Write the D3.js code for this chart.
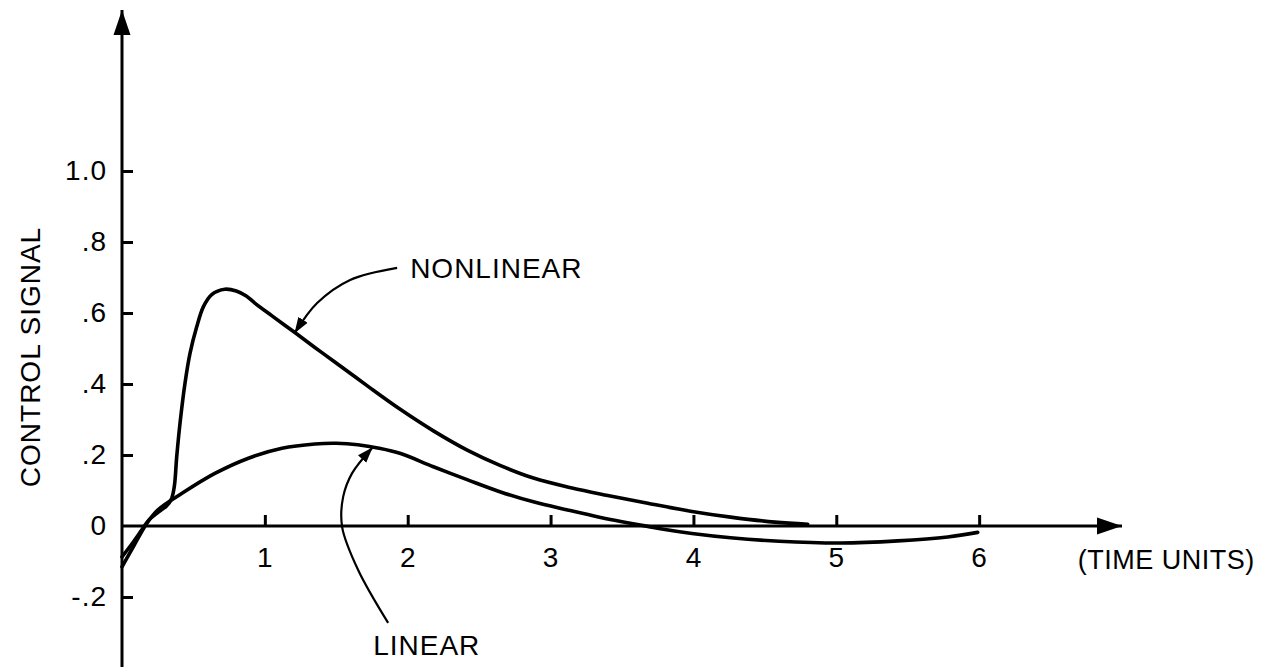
<!DOCTYPE html>
<html>
<head>
<meta charset="utf-8">
<script src="https://cdn.jsdelivr.net/npm/d3@7"></script>
<style>
  html, body { margin: 0; padding: 0; background: #fff; }
  svg { display: block; }
  text { font-family: "Liberation Sans", Arial, sans-serif; fill: #000; }
</style>
</head>
<body>
<svg id="chart" width="1276" height="670"></svg>
<script>
// Time axis (time units) and control-signal axis
const xTicks = [1, 2, 3, 4, 5, 6];
const yTicks = [-0.2, 0, 0.2, 0.4, 0.6, 0.8, 1.0];
const yTickLabels = ["-.2", "0", ".2", ".4", ".6", ".8", "1.0"];

// Nonlinear controller response
const nonlinearTime = [0, 0.07, 0.14, 0.19, 0.25, 0.31, 0.345, 0.366, 0.383, 0.406, 0.441, 0.476, 0.523, 0.57, 0.628, 0.72, 0.8, 0.87, 0.93, 1.05, 1.21, 1.35, 1.48, 1.72, 1.95, 2.18, 2.42, 2.65, 2.88, 3.15, 3.4, 3.68, 3.99, 4.26, 4.57, 4.8];
const nonlinearSignal = [-0.087, -0.05, -0.01, 0.018, 0.038, 0.056, 0.075, 0.111, 0.195, 0.289, 0.402, 0.486, 0.561, 0.618, 0.652, 0.667, 0.662, 0.648, 0.628, 0.592, 0.545, 0.503, 0.465, 0.394, 0.328, 0.268, 0.213, 0.17, 0.135, 0.107, 0.086, 0.064, 0.041, 0.025, 0.011, 0.005];

// Linear controller response
const linearTime = [0, 0.08, 0.17, 0.25, 0.42, 0.65, 0.885, 1.12, 1.35, 1.5, 1.65, 1.8, 1.95, 2.18, 2.42, 2.65, 2.88, 3.12, 3.35, 3.5, 3.68, 3.79, 3.99, 4.26, 4.6, 5.03, 5.43, 5.78, 5.99];
const linearSignal = [-0.115, -0.058, 0.005, 0.045, 0.092, 0.148, 0.191, 0.219, 0.231, 0.233, 0.229, 0.219, 0.204, 0.167, 0.13, 0.096, 0.068, 0.045, 0.024, 0.012, -0.001, -0.009, -0.021, -0.033, -0.043, -0.048, -0.042, -0.031, -0.018];

// Axis extents (arrow tips)
const xAxisExtent = [0, 7];
const yAxisExtent = [-0.397, 1.4535];

// Callout labels and their leader arrows, in data units
const calloutLabels = [
  { text: "NONLINEAR", t: 2.017, v: 0.699 },
  { text: "LINEAR", t: 1.758, v: -0.363 }
];
const nonlinearLeaderT = [1.926, 1.597, 1.366, 1.211];
const nonlinearLeaderV = [0.727, 0.693, 0.628, 0.545];
const linearLeaderT = [1.863, 1.653, 1.541, 1.548, 1.611, 1.751];
const linearLeaderV = [-0.273, -0.124, -0.003, 0.082, 0.149, 0.22];

const xUnitLabel = { text: "(TIME UNITS)", t: 6.69, v: -0.121 };
const yTitle = "CONTROL SIGNAL";

const svg = d3.select("#chart");

const x = d3.scaleLinear().domain([0, 7]).range([122, 1122]);
const y = d3.scaleLinear().domain([-0.2, 1.0]).range([597, 171]);

const defs = svg.append("defs");
defs.append("marker")
  .attr("id", "axisHead")
  .attr("viewBox", "0 -9 25 18")
  .attr("refX", 25).attr("refY", 0)
  .attr("markerWidth", 25).attr("markerHeight", 18)
  .attr("markerUnits", "userSpaceOnUse")
  .attr("orient", "auto")
  .append("path").attr("d", "M0,-8.5L25,0L0,8.5Z").attr("fill", "#000");
defs.append("marker")
  .attr("id", "leaderHead")
  .attr("viewBox", "0 -6 16 12")
  .attr("refX", 15).attr("refY", 0)
  .attr("markerWidth", 16).attr("markerHeight", 12)
  .attr("markerUnits", "userSpaceOnUse")
  .attr("orient", "auto")
  .append("path").attr("d", "M0,-5.5L16,0L0,5.5Z").attr("fill", "#000");

// Axis lines with arrowheads
svg.append("line")
  .attr("x1", x(xAxisExtent[0])).attr("y1", y(0))
  .attr("x2", x(xAxisExtent[1])).attr("y2", y(0))
  .attr("stroke", "#000").attr("stroke-width", 3)
  .attr("marker-end", "url(#axisHead)");
svg.append("line")
  .attr("x1", x(0)).attr("y1", y(yAxisExtent[0]))
  .attr("x2", x(0)).attr("y2", y(yAxisExtent[1]))
  .attr("stroke", "#000").attr("stroke-width", 3)
  .attr("marker-end", "url(#axisHead)");

// Ticks: drawn on the inside of the axes
const xAxis = d3.axisBottom(x)
  .tickValues(xTicks)
  .tickFormat(d3.format("d"))
  .tickSizeInner(-11).tickSizeOuter(0)
  .tickPadding(21);
const gx = svg.append("g").attr("transform", `translate(0,${y(0)})`).call(xAxis);

const yAxis = d3.axisLeft(y)
  .tickValues(yTicks)
  .tickFormat((d, i) => yTickLabels[i])
  .tickSizeInner(-11).tickSizeOuter(0)
  .tickPadding(15);
const gy = svg.append("g").attr("transform", `translate(${x(0)},0)`).call(yAxis);

[gx, gy].forEach(g => {
  g.select(".domain").remove();
  g.selectAll(".tick line").attr("stroke", "#000").attr("stroke-width", 3);
  g.selectAll(".tick text")
    .attr("fill", "#000")
    .style("font-family", '"Liberation Sans", Arial, sans-serif')
    .style("font-size", "28px")
    .style("letter-spacing", "1px");
});
gy.selectAll(".tick").filter(d => d === 0).select("line").remove();

// Response curves
const line = d3.line()
  .x(d => x(d[0]))
  .y(d => y(d[1]))
  .curve(d3.curveCatmullRom.alpha(0.5));

const nonlinear = nonlinearTime.map((t, i) => [t, nonlinearSignal[i]]);
const linear = linearTime.map((t, i) => [t, linearSignal[i]]);

[nonlinear, linear].forEach(series => {
  svg.append("path")
    .datum(series)
    .attr("d", line)
    .attr("fill", "none").attr("stroke", "#000")
    .attr("stroke-width", 3.6).attr("stroke-linejoin", "round").attr("stroke-linecap", "round");
});

// Leader arrows for the callouts
[[nonlinearLeaderT, nonlinearLeaderV], [linearLeaderT, linearLeaderV]].forEach(([ts, vs]) => {
  svg.append("path")
    .datum(ts.map((t, i) => [t, vs[i]]))
    .attr("d", line)
    .attr("fill", "none").attr("stroke", "#000").attr("stroke-width", 2.2)
    .attr("marker-end", "url(#leaderHead)");
});

svg.selectAll("text.callout")
  .data(calloutLabels)
  .enter().append("text")
  .attr("class", "callout")
  .attr("x", d => x(d.t))
  .attr("y", d => y(d.v))
  .style("font-size", "28px")
  .style("letter-spacing", "1px")
  .text(d => d.text);

svg.append("text")
  .attr("x", x(xUnitLabel.t))
  .attr("y", y(xUnitLabel.v))
  .style("font-size", "27px")
  .style("letter-spacing", "0.5px")
  .text(xUnitLabel.text);

svg.append("text")
  .attr("transform", "translate(40,357) rotate(-90)")
  .attr("text-anchor", "middle")
  .style("font-size", "28px")
  .style("letter-spacing", "1px")
  .text(yTitle);
</script>
</body>
</html>
